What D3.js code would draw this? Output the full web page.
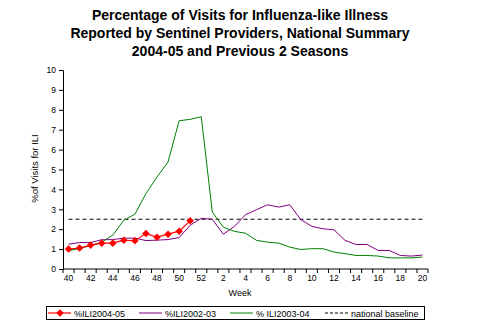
<!DOCTYPE html>
<html>
<head>
<meta charset="utf-8">
<script src="https://cdnjs.cloudflare.com/ajax/libs/d3/7.8.5/d3.min.js"></script>
<style>
  body { margin: 0; background: #fff; }
  text { font-family: "Liberation Sans", Arial, sans-serif; }
</style>
</head>
<body>
<div id="chart"></div>
<script>
// weeks of the flu season (40 of one year through 20 of the next)
var weeks = ["40","41","42","43","44","45","46","47","48","49","50","51","52",
  "1","2","3","4","5","6","7","8","9","10","11","12","13","14","15","16","17","18","19","20"];

// % of visits for ILI
var ili0405 = [1.0, 1.05, 1.2, 1.3, 1.3, 1.45, 1.42, 1.78, 1.6, 1.75, 1.9, 2.42];
var ili0203 = [1.25, 1.33, 1.33, 1.47, 1.48, 1.55, 1.55, 1.43, 1.45, 1.48, 1.58, 2.2, 2.55,
  2.5, 1.75, 2.14, 2.73, 2.98, 3.23, 3.11, 3.23, 2.48, 2.14, 2.02, 1.97, 1.44, 1.23, 1.23,
  0.93, 0.93, 0.68, 0.65, 0.7];
var ili0304 = [0.93, 1.02, 1.18, 1.35, 1.7, 2.45, 2.75, 3.79, 4.62, 5.38, 7.45, 7.52, 7.65,
  2.86, 2.1, 1.89, 1.8, 1.44, 1.35, 1.3, 1.1, 0.98, 1.02, 1.02, 0.85, 0.77, 0.68, 0.68,
  0.65, 0.56, 0.56, 0.56, 0.6];
var baseline = 2.5;
var yTicks = [0,1,2,3,4,5,6,7,8,9,10];

var width = 480, height = 332;
var plot = {left: 63, right: 428, top: 70, bottom: 269};

var svg = d3.select("#chart")
  .append("svg")
    .attr("width", width)
    .attr("height", height);

// title
var title = ["Percentage of Visits for Influenza-like Illness",
  "Reported by Sentinel Providers, National Summary",
  "2004-05 and Previous 2 Seasons"];
svg.selectAll("text.title")
  .data(title)
  .enter()
  .append("text")
    .attr("class", "title")
    .attr("x", 240)
    .attr("y", function(d, i) { return 20 + i * 18; })
    .attr("text-anchor", "middle")
    .style("font-size", "14px")
    .style("font-weight", "bold")
    .text(function(d) { return d; });

var x = d3.scaleBand()
  .domain(weeks)
  .range([plot.left, plot.right]);

var y = d3.scaleLinear()
  .domain([0, 10])
  .range([plot.bottom, plot.top]);

var cx = function(w) { return x(w) + x.bandwidth() / 2; };

// y axis
var yAxis = svg.append("g")
  .attr("transform", "translate(" + plot.left + ",0)")
  .call(d3.axisLeft(y).tickValues(yTicks).tickSize(4).tickPadding(3).tickFormat(d3.format("d")));
yAxis.select(".domain").attr("stroke", "#000");
yAxis.selectAll("text").style("font-size", "8.5px").attr("fill", "#000");

// x axis: a tick at every category edge, labels every second week
var xAxis = svg.append("g")
  .attr("transform", "translate(0," + plot.bottom + ")")
  .call(d3.axisBottom(x).tickSize(0).tickPadding(6)
    .tickFormat(function(d, i) { return i % 2 === 0 ? d : ""; }));
xAxis.select(".domain").attr("d", "M" + plot.left + ",0H" + plot.right).attr("stroke", "#000");
xAxis.selectAll("text").style("font-size", "8.5px").attr("fill", "#000");
xAxis.selectAll("line.edge")
  .data(weeks.concat(["end"]))
  .enter()
  .append("line")
    .attr("class", "edge")
    .attr("x1", function(d, i) { return i < weeks.length ? x(d) : plot.right; })
    .attr("x2", function(d, i) { return i < weeks.length ? x(d) : plot.right; })
    .attr("y1", 0)
    .attr("y2", 4)
    .attr("stroke", "#000");

svg.append("text")
  .attr("x", 240)
  .attr("y", 296)
  .attr("text-anchor", "middle")
  .style("font-size", "9px")
  .text("Week");

svg.append("text")
  .attr("transform", "translate(38," + y(5.05) + ") rotate(-90)")
  .attr("text-anchor", "middle")
  .style("font-size", "9.5px")
  .text("%of Visits for ILI");

// national baseline
svg.append("line")
  .attr("x1", cx(weeks[0]))
  .attr("x2", cx(weeks[weeks.length - 1]))
  .attr("y1", y(baseline))
  .attr("y2", y(baseline))
  .attr("stroke", "#000")
  .attr("stroke-width", 1)
  .attr("stroke-dasharray", "4,3");

var line = d3.line()
  .x(function(d, i) { return cx(weeks[i]); })
  .y(function(d) { return y(d); });

svg.append("path")
  .datum(ili0203)
  .attr("fill", "none")
  .attr("stroke", "#800080")
  .attr("stroke-width", 1)
  .attr("d", line);

svg.append("path")
  .datum(ili0304)
  .attr("fill", "none")
  .attr("stroke", "#008000")
  .attr("stroke-width", 1)
  .attr("d", line);

svg.append("path")
  .datum(ili0405)
  .attr("fill", "none")
  .attr("stroke", "#ff0000")
  .attr("stroke-width", 1.2)
  .attr("d", line);

var diamond = d3.symbol().type(d3.symbolDiamond2).size(36);
svg.selectAll("path.dot")
  .data(ili0405)
  .enter()
  .append("path")
    .attr("class", "dot")
    .attr("d", diamond)
    .attr("transform", function(d, i) {
      return "translate(" + cx(weeks[i]) + "," + y(d) + ")";
    })
    .attr("fill", "#ff0000");

// legend
var legend = svg.append("g");
legend.append("rect")
  .attr("x", 46.5)
  .attr("y", 306.5)
  .attr("width", 378)
  .attr("height", 13)
  .attr("fill", "#fff")
  .attr("stroke", "#000");

var legendItems = [
  {label: "%ILI2004-05", color: "#ff0000", x: 48, dash: null, dot: true},
  {label: "%ILI2002-03", color: "#800080", x: 139, dash: null, dot: false},
  {label: "% ILI2003-04", color: "#008000", x: 230, dash: null, dot: false},
  {label: "national baseline", color: "#000", x: 325, dash: "3,2", dot: false}
];
var item = legend.selectAll("g.item")
  .data(legendItems)
  .enter()
  .append("g")
    .attr("class", "item");
item.append("line")
  .attr("x1", function(d) { return d.x; })
  .attr("x2", function(d) { return d.x + 23; })
  .attr("y1", 313)
  .attr("y2", 313)
  .attr("stroke", function(d) { return d.color; })
  .attr("stroke-width", function(d) { return d.dot ? 1.2 : 1; })
  .attr("stroke-dasharray", function(d) { return d.dash; });
item.filter(function(d) { return d.dot; })
  .append("path")
    .attr("d", diamond)
    .attr("transform", function(d) { return "translate(" + (d.x + 12) + ",313)"; })
    .attr("fill", function(d) { return d.color; });
item.append("text")
  .attr("x", function(d) { return d.x + 26; })
  .attr("y", 316.5)
  .style("font-size", "9px")
  .text(function(d) { return d.label; });
</script>
</body>
</html>
